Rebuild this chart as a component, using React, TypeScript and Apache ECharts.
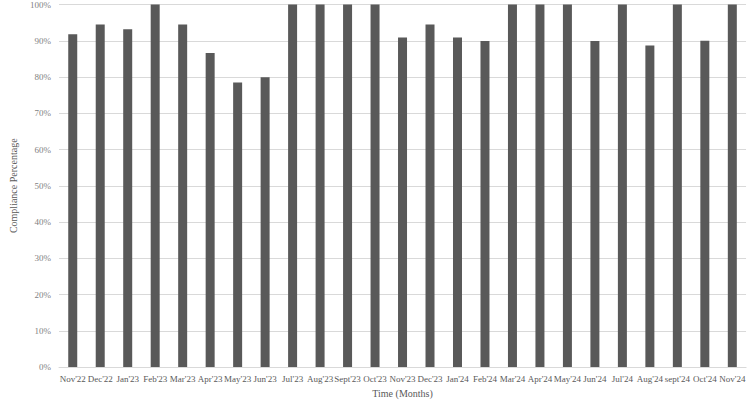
import React, { useEffect, useRef } from "react";
import * as echarts from "echarts";

const categories = [
  "Nov'22", "Dec'22", "Jan'23", "Feb'23", "Mar'23", "Apr'23", "May'23", "Jun'23",
  "Jul'23", "Aug'23", "Sept'23", "Oct'23", "Nov'23", "Dec'23", "Jan'24", "Feb'24",
  "Mar'24", "Apr'24", "May'24", "Jun'24", "Jul'24", "Aug'24", "sept'24", "Oct'24", "Nov'24",
];
const compliance = [
  91.8, 94.5, 93.2, 100, 94.5, 86.6, 78.5, 79.9,
  100, 100, 100, 100, 90.9, 94.5, 90.9, 89.9,
  100, 100, 100, 89.9, 100, 88.7, 100, 90, 100,
];

export default function App() {
  const ref = useRef<HTMLDivElement>(null);
  useEffect(() => {
    document.body.style.margin = "0";
    const chart = echarts.init(ref.current!, null, { renderer: "svg" });
    const font = "'Liberation Serif', 'Times New Roman', serif";
    chart.setOption({
      animation: false,
      grid: { left: 42, right: 0, top: 4, bottom: 30, containLabel: false },
      xAxis: {
        type: "category",
        data: categories,
        name: "Time (Months)",
        nameLocation: "middle",
        nameGap: 21,
        nameTextStyle: { fontFamily: font, fontSize: 10, color: "#595959" },
        axisLine: { lineStyle: { color: "#d9d9d9" } },
        axisTick: { show: false },
        axisLabel: { fontFamily: font, fontSize: 9, color: "#595959", margin: 7, interval: 0 },
      },
      yAxis: {
        type: "value",
        min: 0,
        max: 100,
        interval: 10,
        name: "Compliance Percentage",
        nameLocation: "middle",
        nameGap: 41,
        nameTextStyle: { fontFamily: font, fontSize: 10, color: "#595959" },
        axisLine: { show: false },
        axisTick: { show: false },
        splitLine: { lineStyle: { color: "#d9d9d9" } },
        axisLabel: { fontFamily: font, fontSize: 9, color: "#7f7f7f", margin: 8, formatter: "{value}%" },
      },
      series: [
        {
          type: "bar",
          data: compliance,
          barWidth: 9,
          itemStyle: { color: "#595959" },
        },
      ],
    });
    return () => chart.dispose();
  }, []);
  return <div ref={ref} style={{ width: 748, height: 403 }} />;
}
